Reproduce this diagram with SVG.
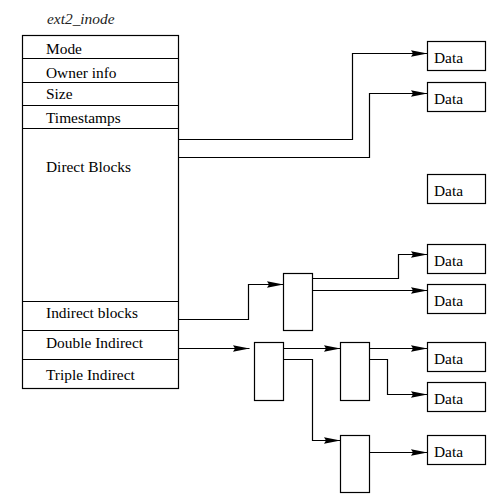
<svg xmlns="http://www.w3.org/2000/svg" width="493" height="501" viewBox="0 0 493 501">
<style>
  .box{fill:#fff;stroke:#000;stroke-width:1.2}
  .ln{fill:none;stroke:#000;stroke-width:1.2}
  .t{font-family:"Liberation Serif","Times New Roman",serif;font-size:15.4px;fill:#000}
  .ti{font-family:"Liberation Serif","Times New Roman",serif;font-size:15.4px;font-style:italic;fill:#222}
  .wire{fill:none;stroke:#000;stroke-width:1.2;marker-end:url(#ah)}
</style>
<defs>
  <marker id="ah" markerUnits="userSpaceOnUse" markerWidth="17" markerHeight="8" refX="16.5" refY="3.25" orient="auto" overflow="visible">
    <path d="M0,0 L16.5,3.25 L0,6.5 L2,3.25 z" fill="#000"/>
  </marker>
</defs>
<rect width="493" height="501" fill="#fff"/>

<g id="inode">
  <text class="ti" x="47" y="24">ext2_inode</text>
  <rect class="box" x="22.5" y="35.5" width="156" height="353"/>
  <line class="ln" x1="22.5" y1="58.5" x2="178.5" y2="58.5"/>
  <line class="ln" x1="22.5" y1="82.5" x2="178.5" y2="82.5"/>
  <line class="ln" x1="22.5" y1="105.5" x2="178.5" y2="105.5"/>
  <line class="ln" x1="22.5" y1="128.5" x2="178.5" y2="128.5"/>
  <line class="ln" x1="22.5" y1="301.5" x2="178.5" y2="301.5"/>
  <line class="ln" x1="22.5" y1="330.5" x2="178.5" y2="330.5"/>
  <line class="ln" x1="22.5" y1="359.5" x2="178.5" y2="359.5"/>
  <text class="t" x="46" y="53.5">Mode</text>
  <text class="t" x="46" y="78">Owner info</text>
  <text class="t" x="46" y="98.5">Size</text>
  <text class="t" x="46" y="122.5">Timestamps</text>
  <text class="t" x="46" y="171.5">Direct Blocks</text>
  <text class="t" x="46" y="317.5">Indirect blocks</text>
  <text class="t" x="46" y="347.5">Double Indirect</text>
  <text class="t" x="46" y="379.5">Triple Indirect</text>
</g>

<g id="data1"><rect class="box" x="427.5" y="41.5" width="58" height="29"/><text class="t" x="434" y="63">Data</text></g>
<g id="data2"><rect class="box" x="427.5" y="82.5" width="58" height="29"/><text class="t" x="434" y="104">Data</text></g>
<g id="data3"><rect class="box" x="427.5" y="174.5" width="58" height="29"/><text class="t" x="434" y="196">Data</text></g>
<g id="data4"><rect class="box" x="427.5" y="244.5" width="58" height="29"/><text class="t" x="434" y="266">Data</text></g>
<g id="data5"><rect class="box" x="427.5" y="284.5" width="58" height="29"/><text class="t" x="434" y="306">Data</text></g>
<g id="data6"><rect class="box" x="427.5" y="342.5" width="58" height="29"/><text class="t" x="434" y="364">Data</text></g>
<g id="data7"><rect class="box" x="427.5" y="382.5" width="58" height="29"/><text class="t" x="434" y="404">Data</text></g>
<g id="data8"><rect class="box" x="427.5" y="435.5" width="58" height="29"/><text class="t" x="434" y="457">Data</text></g>

<g id="ind1"><rect class="box" x="283.5" y="273.5" width="29" height="57"/></g>
<g id="dind1"><rect class="box" x="254.5" y="342.5" width="29" height="58"/></g>
<g id="dind2"><rect class="box" x="340.5" y="342.5" width="29" height="58"/></g>
<g id="dind3"><rect class="box" x="340.5" y="435.5" width="29" height="57"/></g>

<g id="connectors">
  <path class="wire" d="M178.5,139.5 H352.5 V53.5 H427.5"/>
  <path class="wire" d="M178.5,157.5 H369.5 V93.5 H427.5"/>
  <path class="wire" d="M178.5,319.5 H248.5 V284.5 H283.5"/>
  <path class="wire" d="M312.5,278.5 H398.5 V254.5 H427.5"/>
  <path class="wire" d="M312.5,290.5 H427.5"/>
  <path class="wire" d="M178.5,348.5 H249.5"/>
  <path class="wire" d="M283.5,348.5 H340.5"/>
  <path class="wire" d="M283.5,359.5 H312.5 V440.5 H340.5"/>
  <path class="wire" d="M369.5,348.5 H427.5"/>
  <path class="wire" d="M369.5,359.5 H387.5 V394.5 H427.5"/>
  <path class="wire" d="M369.5,452.5 H427.5"/>
</g>
</svg>
